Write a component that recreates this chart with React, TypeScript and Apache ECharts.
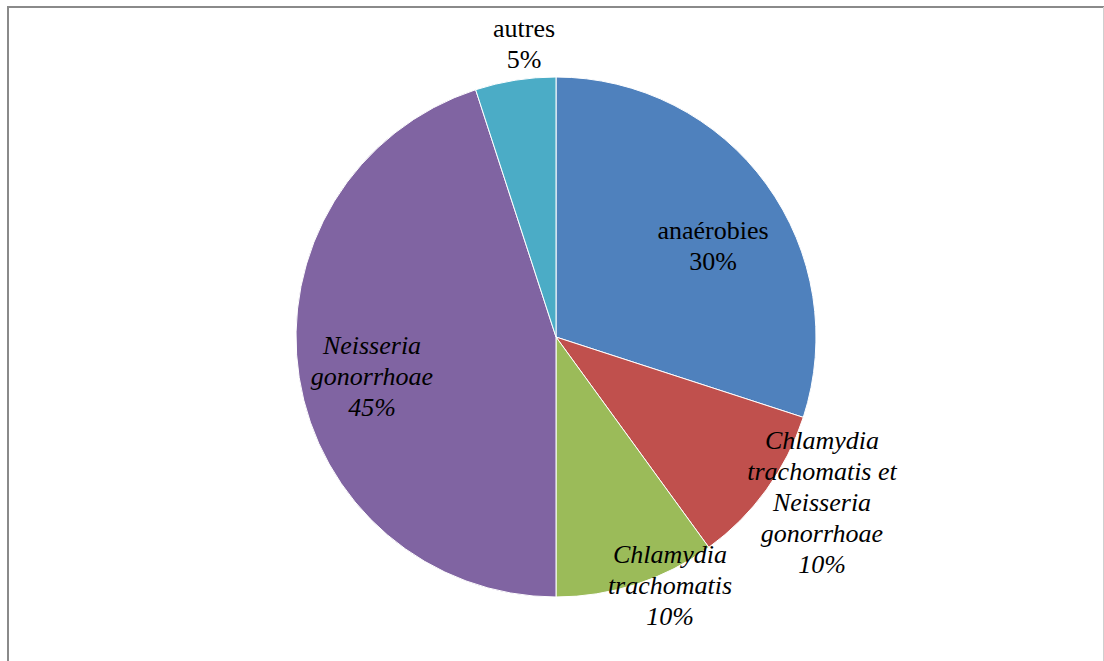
import React, { useEffect, useRef } from "react";
import * as echarts from "echarts";

// Répartition des germes isolés
const categories = [
  "anaérobies",
  "Chlamydia\ntrachomatis et\nNeisseria\ngonorrhoae",
  "Chlamydia\ntrachomatis",
  "Neisseria\ngonorrhoae",
  "autres",
];
const values = [30, 10, 10, 45, 5];
const italicFlags = [false, true, true, true, false];
const colors = ["#4F81BD", "#C0504D", "#9BBB59", "#8064A2", "#4BACC6"];

// label centres in pixels (x, y)
const labelCenters: [number, number][] = [
  [713, 246],
  [822, 502],
  [670, 585],
  [372, 376],
  [524, 44],
];

const total = values.reduce((a, b) => a + b, 0);

export default function App() {
  const ref = useRef<HTMLDivElement>(null);

  useEffect(() => {
    if (!ref.current) return;
    const chart = echarts.init(ref.current, null, { renderer: "svg" });

    const labelTexts = categories.map((name, i) => ({
      type: "text",
      x: labelCenters[i][0],
      y: labelCenters[i][1],
      silent: true,
      z: 10,
      style: {
        text: name + "\n" + Math.round((values[i] / total) * 100) + "%",
        font: (italicFlags[i] ? "italic " : "") + "26px 'Liberation Serif'",
        lineHeight: 31,
        fill: "#000000",
        align: "center",
        verticalAlign: "middle",
      },
    }));

    chart.setOption({
      animation: false,
      backgroundColor: "#ffffff",
      graphic: [
        {
          type: "line",
          shape: { x1: 8, y1: 6, x2: 8, y2: 700 },
          style: { stroke: "#8a8a8a", lineWidth: 2 },
        },
        {
          type: "line",
          shape: { x1: 7, y1: 7, x2: 1104, y2: 7 },
          style: { stroke: "#8a8a8a", lineWidth: 2 },
        },
        {
          type: "line",
          shape: { x1: 1103.5, y1: 7, x2: 1103.5, y2: 700 },
          style: { stroke: "#cfcfcf", lineWidth: 1 },
        },
        ...labelTexts,
      ],
      series: [
        {
          type: "pie",
          center: [556, 337],
          radius: 260,
          startAngle: 90,
          clockwise: true,
          itemStyle: { borderColor: "#ffffff", borderWidth: 1 },
          label: { show: false },
          labelLine: { show: false },
          data: categories.map((name, i) => ({
            name,
            value: values[i],
            itemStyle: { color: colors[i] },
          })),
        },
      ],
    });
    return () => chart.dispose();
  }, []);

  return (
    <div
      ref={ref}
      style={{ position: "fixed", left: 0, top: 0, width: 1104, height: 661 }}
    />
  );
}
